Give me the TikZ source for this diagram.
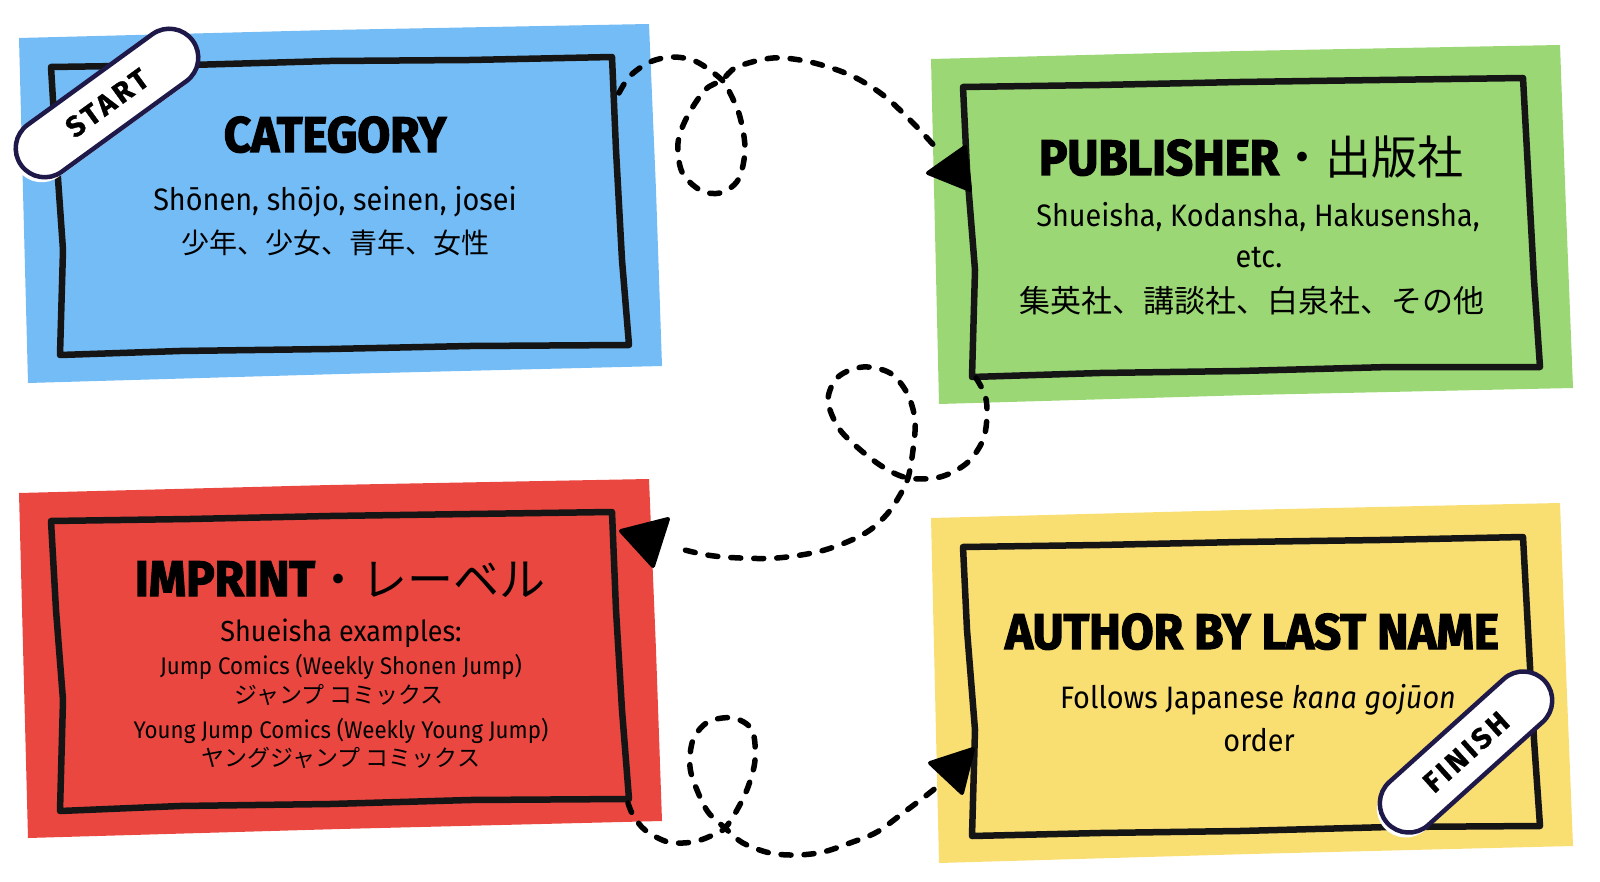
\documentclass[tikz,border=0pt]{standalone}
\usepackage{fontspec}
\setmainfont{Fira Sans}[FakeStretch=0.93]
\newfontfamily\titlefont{Fira Sans}[FakeStretch=0.95, BoldFeatures={FakeBold=2.5}]
\newfontfamily\tagfont{Fira Sans}[LetterSpace=12, BoldFeatures={FakeBold=1}]
\newfontfamily\jpfont{Noto Sans CJK JP}
\usetikzlibrary{shapes.misc, shadows}

\definecolor{catblue}{HTML}{74BCF5}
\definecolor{pubgreen}{HTML}{9BD775}
\definecolor{impred}{HTML}{EA4741}
\definecolor{authyellow}{HTML}{F9DE72}
\definecolor{tagnavy}{HTML}{1E1948}
\definecolor{ink}{HTML}{151515}

\tikzset{
  frame/.style={draw=ink, line width=6.5pt, line join=round, line cap=round},
  trail/.style={draw=black, line width=5.5pt, line cap=round, dash pattern=on 10pt off 13pt},
  tip/.style={fill=black, draw=black, line width=4pt, line join=round},
  tag/.style={rounded rectangle, draw=tagnavy, fill=white, line width=4.5pt,
    minimum width=212pt, minimum height=58pt, inner sep=0pt,
    general shadow={fill=white, shadow xshift=-3pt, shadow yshift=-5pt},
    font=\tagfont\bfseries\fontsize{29}{32}\selectfont},
  head/.style={anchor=base, inner sep=0pt, font=\titlefont\bfseries\fontsize{50}{56}\selectfont},
  body/.style={anchor=base, inner sep=0pt, font=\fontsize{31}{36}\selectfont},
  small/.style={anchor=base, inner sep=0pt, font=\fontsize{24}{28}\selectfont},
  jp/.style={anchor=base, inner sep=0pt, font=\jpfont\fontsize{28}{32}\selectfont}
}

\begin{document}
\begin{tikzpicture}[x=1pt, y=-1pt]
  \useasboundingbox (0,0) rectangle (1600,882);

  % colour sheets
  \fill[catblue] (19,38) -- (330,30) -- (649,24) -- (656,190) -- (662,366) -- (340,374) -- (28,383) -- cycle;
  \fill[pubgreen] (931,59) -- (1240,51) -- (1560,45) -- (1566,210) -- (1573,388) -- (1250,395) -- (939,404) -- cycle;
  \fill[impred] (19,493) -- (330,485) -- (649,479) -- (656,650) -- (662,821) -- (340,829) -- (28,838) -- cycle;
  \fill[authyellow] (931,518) -- (1240,510) -- (1560,503) -- (1566,670) -- (1573,846) -- (1250,854) -- (939,863) -- cycle;

  % hand drawn frames
  \draw[frame] (51,67) -- (190,65) -- (330,61) -- (470,60) -- (612,57) -- (616,150) -- (622,260) -- (629,345)
    -- (470,346) -- (330,349) -- (180,351) -- (60,355) -- (63,250) -- (56,150) -- cycle;
  \draw[frame] (963,87) -- (1100,85) -- (1240,82) -- (1380,80) -- (1523,78) -- (1528,170) -- (1534,280) -- (1540,367)
    -- (1390,367) -- (1240,371) -- (1100,373) -- (972,377) -- (975,270) -- (967,170) -- cycle;
  \draw[frame] (51,521) -- (190,519) -- (330,516) -- (470,514) -- (612,512) -- (616,610) -- (622,710) -- (629,799)
    -- (470,800) -- (330,804) -- (180,806) -- (60,811) -- (63,700) -- (56,610) -- cycle;
  \draw[frame] (963,547) -- (1100,545) -- (1240,542) -- (1380,540) -- (1523,537) -- (1528,630) -- (1534,740) -- (1540,826)
    -- (1390,827) -- (1240,831) -- (1100,833) -- (972,836) -- (975,730) -- (967,630) -- cycle;

  % category
  \node[head] (cat-title) at (335,152) {CATEGORY};
  \node[body] (cat-en) at (335,211) {Shōnen, shōjo, seinen, josei};
  \node[jp] (cat-jp) at (335,254) {少年、少女、青年、女性};

  % publisher
  \node[head] (pub-title) at (1251,175) {PUBLISHER{\jpfont\mdseries\fontsize{46}{50}\selectfont ・出版社}};
  \node[body] (pub-en) at (1258,227) {Shueisha, Kodansha, Hakusensha,};
  \node[body] (pub-etc) at (1259,268) {etc.};
  \node[jp, font=\jpfont\fontsize{31}{34}\selectfont] (pub-jp) at (1252,313) {集英社、講談社、白泉社、その他};

  % imprint
  \node[head] (imp-title) at (340,596) {IMPRINT{\jpfont\mdseries\fontsize{46}{50}\selectfont ・レーベル}};
  \node[body, font=\fontsize{29}{33}\selectfont] (imp-lead) at (341,641) {Shueisha examples:};
  \node[small] (imp-jump) at (341,674) {Jump Comics (Weekly Shonen Jump)};
  \node[jp, font=\jpfont\fontsize{23}{26}\selectfont] (imp-jump-jp) at (339,703) {ジャンプ コミックス};
  \node[small] (imp-young) at (341,738) {Young Jump Comics (Weekly Young Jump)};
  \node[jp, font=\jpfont\fontsize{23}{26}\selectfont] (imp-young-jp) at (341,766) {ヤングジャンプ コミックス};

  % author
  \node[head] (auth-title) at (1252,649) {AUTHOR BY LAST NAME};
  \node[body] (auth-en) at (1258,708) {Follows Japanese \textit{kana gojūon}};
  \node[body] (auth-order) at (1259,751) {order};

  % trail ends
  \coordinate (cat-out) at (619,93);
  \coordinate (pub-in) at (938,150);
  \coordinate (pub-out) at (976,378);
  \coordinate (imp-in) at (673,547);
  \coordinate (imp-out) at (628,803);
  \coordinate (auth-in) at (937,787);

  % dashed trails with loops
  \draw[trail] plot[smooth, tension=0.55] coordinates {(cat-out) (630,76) (650,62) (673,57) (697,62) (722,80)
    (730,93) (740,117) (745,150) (738,180) (720,193) (700,190) (682,172) (678,143) (687,117) (705,90) (722,80)
    (737,67) (773,58) (810,62) (850,75) (883,95) (913,123) (pub-in)};
  \draw[trail] plot[smooth, tension=0.55] coordinates {(pub-out) (985,395) (987,415) (983,440) (967,463) (940,477)
    (908,478) (883,467) (857,447) (838,427) (828,400) (838,377) (863,367) (890,373) (907,393) (915,420) (913,450)
    (908,478) (900,495) (888,513) (870,530) (847,542) (817,552) (777,558) (740,558) (707,555) (imp-in)};
  \draw[trail] plot[smooth, tension=0.55] coordinates {(imp-out) (633,815) (645,830) (668,842) (693,842) (713,835)
    (725,828) (737,810) (748,787) (755,760) (752,730) (733,718) (708,722) (693,740) (690,767) (697,790) (708,812)
    (725,828) (743,843) (770,853) (797,855) (823,852) (850,843) (877,832) (903,813) (923,798) (auth-in)};

  % arrow heads
  \filldraw[tip] (928,173) -- (965,147) -- (970,190) -- cycle;
  \filldraw[tip] (621,531) -- (668,519) -- (653,566) -- cycle;
  \filldraw[tip] (930,763) -- (973,749) -- (962,793) -- cycle;

  % stickers
  \node[tag, rotate=36] (start) at (107,103) {START};
  \node[tag, rotate=42] (finish) at (1466,752) {FINISH};
\end{tikzpicture}
\end{document}
